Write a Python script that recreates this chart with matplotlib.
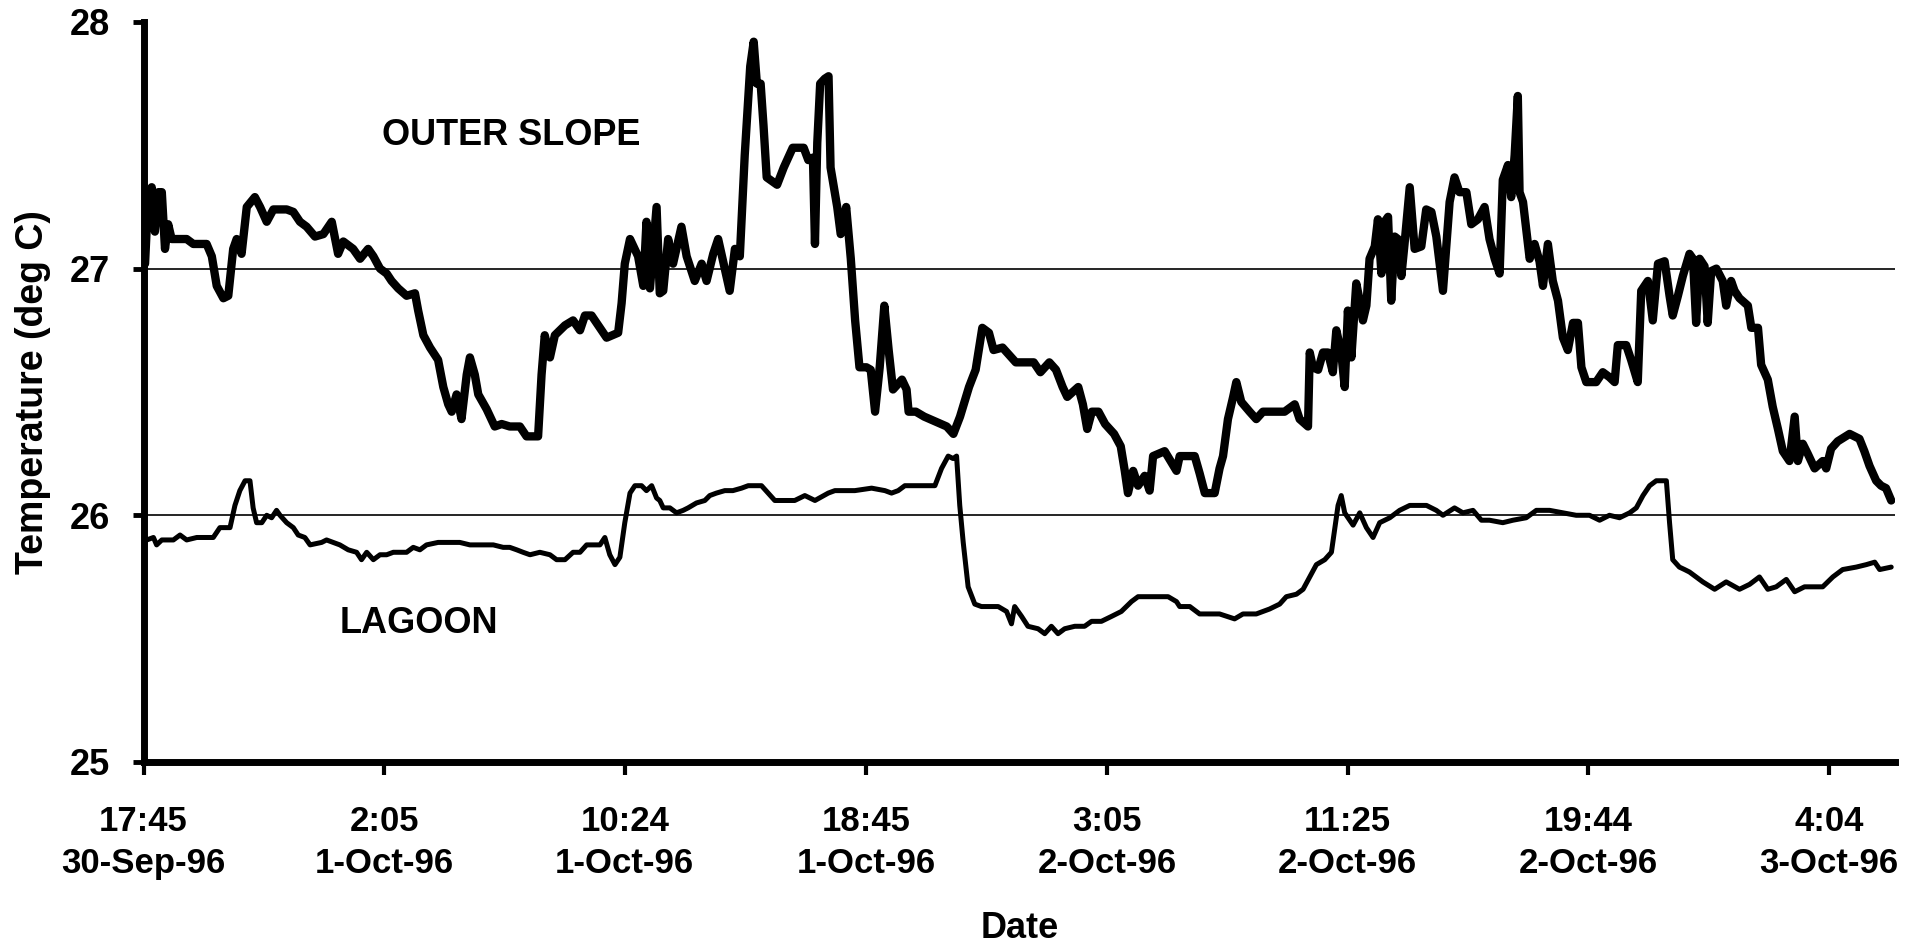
import matplotlib
matplotlib.use("Agg")
import matplotlib.pyplot as plt

# hours since 17:45, 30-Sep-96
outer_hours = [0.05, 0.11, 0.28, 0.39, 0.51, 0.63, 0.74, 0.85, 0.97, 1.09, 1.49, 1.72, 2.18, 2.36, 2.53, 2.76,
               2.93, 3.10, 3.22, 3.39, 3.57, 3.85, 4.03, 4.26, 4.49, 4.95, 5.18, 5.41, 5.64, 5.93, 6.22, 6.51,
               6.73, 6.91, 7.25, 7.49, 7.77, 7.95, 8.18, 8.41, 8.58, 8.81, 9.10, 9.39, 9.50, 9.68, 9.91, 10.19,
               10.37, 10.54, 10.66, 10.83, 11.00, 11.18, 11.29, 11.46, 11.58, 11.87, 12.15, 12.39, 12.67, 13.02,
               13.25, 13.65, 13.77, 13.88, 14.06, 14.23, 14.58, 14.86, 15.10, 15.27, 15.50, 15.79, 16.02, 16.42,
               16.54, 16.65, 16.83, 17.11, 17.29, 17.40, 17.52, 17.75, 17.86, 17.98, 18.15, 18.32, 18.61, 18.79,
               19.07, 19.31, 19.48, 19.71, 19.88, 20.05, 20.28, 20.46, 20.63, 20.80, 20.99, 21.11, 21.22, 21.35,
               21.45, 21.56, 21.92, 22.15, 22.46, 22.84, 23.00, 23.16, 23.23, 23.31, 23.41, 23.57, 23.70, 23.77,
               24.00, 24.12, 24.31, 24.47, 24.62, 24.77, 25.01, 25.16, 25.31, 25.47, 25.63, 25.78, 25.93, 26.24,
               26.40, 26.47, 26.72, 27.01, 27.40, 27.79, 28.02, 28.25, 28.56, 28.79, 29.02, 29.25, 29.41, 29.72,
               30.18, 30.80, 31.03, 31.34, 31.57, 31.80, 31.96, 32.34, 32.50, 32.65, 32.81, 33.04, 33.27, 33.58,
               33.81, 33.95, 34.06, 34.24, 34.41, 34.64, 34.81, 34.93, 35.33, 35.74, 35.85, 36.37, 36.54, 36.72,
               37.06, 37.23, 37.35, 37.52, 37.70, 37.81, 37.98, 38.27, 38.50, 38.73, 39.08, 39.48, 39.83, 40.00,
               40.29, 40.35, 40.46, 40.64, 40.81, 40.98, 41.15, 41.27, 41.44, 41.56, 41.67, 41.79, 41.96, 42.08,
               42.19, 42.31, 42.42, 42.60, 42.71, 42.83, 42.94, 43.06, 43.17, 43.29, 43.40, 43.52, 43.63, 43.81,
               43.98, 44.21, 44.38, 44.56, 44.73, 44.96, 45.19, 45.36, 45.53, 45.77, 45.94, 46.17, 46.40, 46.57,
               46.75, 46.92, 47.03, 47.21, 47.32, 47.44, 47.55, 47.61, 47.73, 47.96, 48.13, 48.30, 48.42, 48.59,
               48.76, 48.94, 49.11, 49.28, 49.46, 49.63, 49.75, 49.92, 50.26, 50.49, 50.72, 50.90, 51.01, 51.30,
               51.47, 51.70, 51.82, 52.05, 52.22, 52.40, 52.63, 52.80, 52.91, 53.09, 53.26, 53.49, 53.61, 53.72,
               53.84, 54.01, 54.12, 54.24, 54.42, 54.64, 54.76, 54.93, 55.05, 55.22, 55.51, 55.63, 55.86, 55.97,
               56.20, 56.37, 56.55, 56.72, 56.95, 57.13, 57.24, 57.41, 57.58, 57.82, 58.10, 58.22, 58.39, 58.62,
               59.03, 59.37, 59.54, 59.72, 59.95, 60.12, 60.29, 60.47]
outer_temp = [27.02, 27.17, 27.33, 27.15, 27.31, 27.31, 27.08, 27.18, 27.12, 27.12, 27.12, 27.10, 27.10, 27.05, 26.93, 26.88,
              26.89, 27.08, 27.12, 27.06, 27.25, 27.29, 27.25, 27.19, 27.24, 27.24, 27.23, 27.19, 27.17, 27.13, 27.14, 27.19,
              27.06, 27.11, 27.08, 27.04, 27.08, 27.05, 27.00, 26.98, 26.95, 26.92, 26.89, 26.90, 26.83, 26.73, 26.68, 26.63,
              26.52, 26.45, 26.42, 26.49, 26.39, 26.57, 26.64, 26.57, 26.49, 26.43, 26.36, 26.37, 26.36, 26.36,
              26.32, 26.32, 26.57, 26.73, 26.64, 26.73, 26.77, 26.79, 26.75, 26.81, 26.81, 26.76, 26.72, 26.74,
              26.86, 27.02, 27.12, 27.05, 26.93, 27.19, 26.92, 27.25, 26.90, 26.91, 27.12, 27.02, 27.17, 27.05,
              26.95, 27.02, 26.95, 27.06, 27.12, 27.03, 26.91, 27.08, 27.05, 27.46, 27.82, 27.92, 27.75, 27.75,
              27.58, 27.37, 27.34, 27.41, 27.49, 27.49, 27.44, 27.45, 27.10, 27.51, 27.75, 27.77, 27.78, 27.41,
              27.25, 27.14, 27.25, 27.04, 26.79, 26.60, 26.60, 26.59, 26.42, 26.60, 26.85, 26.67, 26.51, 26.55,
              26.51, 26.42, 26.42, 26.40, 26.38, 26.36, 26.33, 26.40, 26.52, 26.59, 26.76, 26.74, 26.67, 26.68,
              26.62, 26.62, 26.58, 26.62, 26.59, 26.52, 26.48, 26.52, 26.45, 26.35, 26.42, 26.42, 26.37, 26.33,
              26.28, 26.18, 26.09, 26.18, 26.12, 26.16, 26.10, 26.24, 26.26, 26.18, 26.24, 26.24, 26.17, 26.09,
              26.09, 26.19, 26.24, 26.39, 26.48, 26.54, 26.46, 26.42, 26.39, 26.42, 26.42, 26.42, 26.45, 26.39,
              26.36, 26.66, 26.60, 26.59, 26.66, 26.66, 26.58, 26.75, 26.66, 26.52, 26.83, 26.64, 26.94, 26.87,
              26.79, 26.85, 27.04, 27.09, 27.20, 26.98, 27.19, 27.21, 26.87, 27.13, 27.12, 26.97, 27.10, 27.33,
              27.08, 27.09, 27.24, 27.23, 27.13, 26.91, 27.27, 27.37, 27.31, 27.31, 27.18, 27.20, 27.25, 27.12,
              27.04, 26.98, 27.36, 27.42, 27.29, 27.46, 27.70, 27.31, 27.27, 27.04, 27.10, 27.03, 26.93, 27.10,
              26.95, 26.87, 26.72, 26.67, 26.78, 26.78, 26.60, 26.54, 26.54, 26.58, 26.56, 26.54, 26.69, 26.69,
              26.63, 26.54, 26.91, 26.95, 26.79, 27.02, 27.03, 26.89, 26.81, 26.89, 26.97, 27.06, 27.04, 26.78,
              27.04, 27.01, 26.78, 26.99, 27.00, 26.95, 26.85, 26.95, 26.91, 26.88, 26.85, 26.76, 26.76, 26.61,
              26.55, 26.44, 26.35, 26.26, 26.22, 26.40, 26.22, 26.29, 26.25, 26.19, 26.22, 26.19, 26.27, 26.30,
              26.33, 26.31, 26.26, 26.20, 26.14, 26.12, 26.11, 26.06]

lagoon_hours = [0.11, 0.34, 0.45, 0.63, 1.03, 1.26, 1.49, 1.84, 2.41, 2.64, 2.99, 3.16, 3.33, 3.51, 3.68, 3.79,
                3.91, 4.09, 4.26, 4.43, 4.60, 4.72, 4.95, 5.18, 5.35, 5.58, 5.76, 6.16, 6.33, 6.79, 7.08, 7.37,
                7.54, 7.72, 7.95, 8.18, 8.41, 8.64, 9.10, 9.33, 9.56, 9.79, 10.19, 10.60, 10.94, 11.29, 11.64,
                12.10, 12.44, 12.67, 12.91, 13.13, 13.37, 13.71, 14.06, 14.29, 14.58, 14.86, 15.10, 15.33, 15.79,
                15.96, 16.13, 16.31, 16.48, 16.65, 16.83, 17.00, 17.23, 17.40, 17.58, 17.75, 17.86, 17.98, 18.21,
                18.44, 18.67, 18.84, 19.13, 19.42, 19.59, 19.82, 20.11, 20.39, 20.69, 20.92, 21.15, 21.38, 21.61,
                21.84, 22.53, 22.88, 23.23, 23.69, 23.92, 24.61, 25.19, 25.65, 25.88, 26.11, 26.34, 26.92, 27.38,
                27.61, 27.84, 28.01, 28.13, 28.24, 28.36, 28.53, 28.76, 28.99, 29.22, 29.57, 29.86, 30.03, 30.14,
                30.38, 30.60, 30.95, 31.18, 31.41, 31.64, 31.87, 32.22, 32.56, 32.80, 33.14, 33.49, 33.83, 34.18,
                34.41, 34.98, 35.45, 35.74, 35.85, 36.20, 36.54, 37.23, 37.75, 38.04, 38.50, 38.96, 39.31, 39.54,
                39.89, 40.12, 40.35, 40.58, 40.87, 41.10, 41.21, 41.33, 41.44, 41.56, 41.85, 42.08, 42.31, 42.54,
                42.77, 43.12, 43.46, 43.81, 44.15, 44.39, 44.73, 44.96, 45.36, 45.65, 46.00, 46.29, 46.57, 47.03,
                47.38, 47.84, 48.19, 48.65, 49.11, 49.57, 50.03, 50.38, 50.72, 51.07, 51.42, 51.65, 51.88, 52.11,
                52.34, 52.69, 52.80, 52.91, 53.14, 53.32, 53.49, 53.95, 54.36, 54.76, 55.22, 55.57, 55.91, 56.20,
                56.49, 56.84, 57.13, 57.47, 58.10, 58.45, 58.79, 59.26, 59.61, 59.90, 60.07, 60.47]
lagoon_temp = [25.90, 25.91, 25.88, 25.90, 25.90, 25.92, 25.90, 25.91, 25.91, 25.95, 25.95, 26.04, 26.10, 26.14, 26.14, 26.03,
               25.97, 25.97, 26.00, 25.99, 26.02, 26.00, 25.97, 25.95, 25.92, 25.91, 25.88, 25.89, 25.90, 25.88, 25.86, 25.85,
               25.82, 25.85, 25.82, 25.84, 25.84, 25.85, 25.85, 25.87, 25.86, 25.88, 25.89, 25.89, 25.89, 25.88, 25.88,
               25.88, 25.87, 25.87, 25.86, 25.85, 25.84, 25.85, 25.84, 25.82, 25.82, 25.85, 25.85, 25.88, 25.88,
               25.91, 25.84, 25.80, 25.83, 25.97, 26.09, 26.12, 26.12, 26.10, 26.12, 26.07, 26.06, 26.03, 26.03,
               26.01, 26.02, 26.03, 26.05, 26.06, 26.08, 26.09, 26.10, 26.10, 26.11, 26.12, 26.12, 26.12, 26.09,
               26.06, 26.06, 26.08, 26.06, 26.09, 26.10, 26.10, 26.11, 26.10, 26.09, 26.10, 26.12, 26.12, 26.12,
               26.19, 26.24, 26.23, 26.24, 26.04, 25.89, 25.71, 25.64, 25.63, 25.63, 25.63, 25.61, 25.56, 25.63,
               25.59, 25.55, 25.54, 25.52, 25.55, 25.52, 25.54, 25.55, 25.55, 25.57, 25.57, 25.59, 25.61, 25.65,
               25.67, 25.67, 25.67, 25.65, 25.63, 25.63, 25.60, 25.60, 25.58, 25.60, 25.60, 25.62, 25.64, 25.67,
               25.68, 25.70, 25.75, 25.80, 25.82, 25.85, 25.94, 26.04, 26.08, 26.01, 25.96, 26.01, 25.95, 25.91,
               25.97, 25.99, 26.02, 26.04, 26.04, 26.04, 26.02, 26.00, 26.03, 26.01, 26.02, 25.98, 25.98, 25.97,
               25.98, 25.99, 26.02, 26.02, 26.01, 26.00, 26.00, 25.98, 26.00, 25.99, 26.01, 26.03, 26.08, 26.12,
               26.14, 26.14, 25.97, 25.82, 25.79, 25.78, 25.77, 25.73, 25.70, 25.73, 25.70, 25.72, 25.75, 25.70,
               25.71, 25.74, 25.69, 25.71, 25.71, 25.75, 25.78, 25.79, 25.80, 25.81, 25.78, 25.79]

tick_hours = [0, 8.333, 16.65, 25.0, 33.333, 41.667, 49.983, 58.317]
tick_labels = ["17:45\n30-Sep-96", "2:05\n1-Oct-96", "10:24\n1-Oct-96", "18:45\n1-Oct-96",
               "3:05\n2-Oct-96", "11:25\n2-Oct-96", "19:44\n2-Oct-96", "4:04\n3-Oct-96"]
y_ticks = [25, 26, 27, 28]
grid_levels = [26, 27]

plt.rcParams['font.family'] = ['Liberation Sans', 'DejaVu Sans']
plt.rcParams['font.weight'] = 'bold'

fig = plt.figure(figsize=(19.25, 9.43), dpi=100)
ax = fig.add_axes([0.0746, 0.192, 0.9098, 0.7847])

for g in grid_levels:
    ax.axhline(g, color='black', lw=1.2, zorder=1)

ax.plot(outer_hours, outer_temp, color='black', lw=6.0, solid_joinstyle='round', solid_capstyle='round', zorder=3)
ax.plot(lagoon_hours, lagoon_temp, color='black', lw=3.6, solid_joinstyle='round', solid_capstyle='round', zorder=3)

ax.set_xlim(0, 60.6)
ax.set_ylim(25, 28)
ax.set_yticks(y_ticks)
ax.set_yticklabels([str(v) for v in y_ticks])
ax.set_xticks(tick_hours)
ax.set_xticklabels(tick_labels, linespacing=1.35)

for s in ['top', 'right']:
    ax.spines[s].set_visible(False)
for s in ['left', 'bottom']:
    ax.spines[s].set_linewidth(5)
    ax.spines[s].set_color('black')

ax.tick_params(axis='y', direction='out', length=8, width=3.5, pad=16, labelsize=26)
ax.tick_params(axis='x', direction='out', length=9, width=3.0, pad=22, labelsize=25)
for lbl in ax.get_xticklabels() + ax.get_yticklabels():
    lbl.set_fontweight('bold')

ax.set_ylabel("Temperature (deg C)", fontsize=27, fontweight='bold', labelpad=14)
ax.set_xlabel("Date", fontsize=26, fontweight='bold', labelpad=22)

ax.text(12.71, 27.54, "OUTER SLOPE", fontsize=26, fontweight='bold', ha='center', va='center')
ax.text(9.53, 25.56, "LAGOON", fontsize=26, fontweight='bold', ha='center', va='center')

fig.savefig("out.png", dpi=100, facecolor='white')
